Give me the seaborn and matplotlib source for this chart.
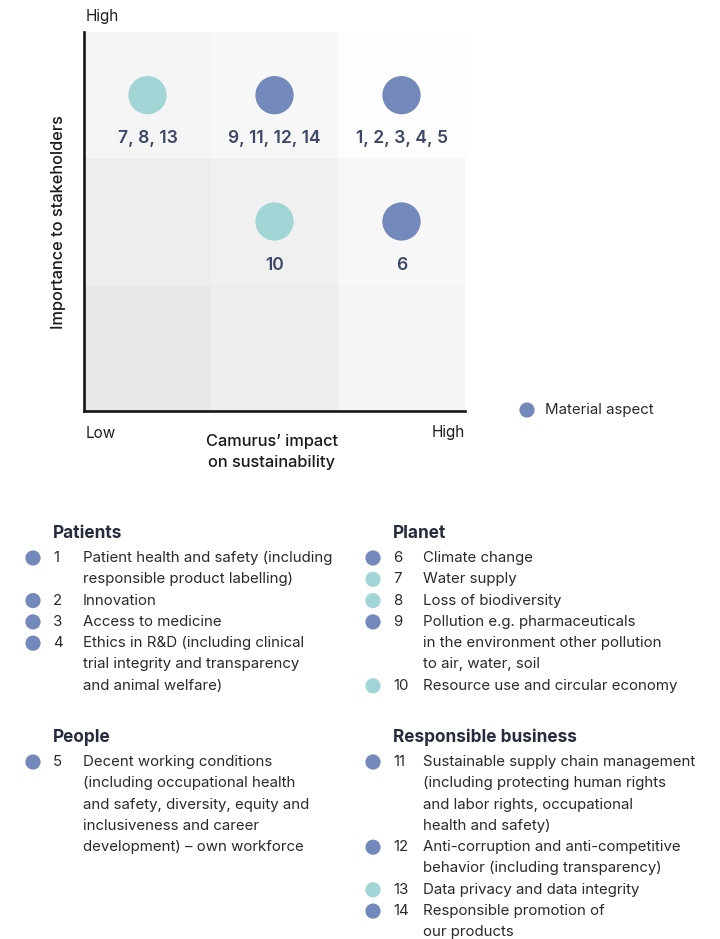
import numpy as np
import pandas as pd
import matplotlib
matplotlib.use("Agg")
import matplotlib.pyplot as plt
from matplotlib.colors import ListedColormap
import seaborn as sns

# --- data ---
aspect_ids = list(range(1, 15))
aspect_names = [
    "Patient health and safety (including\nresponsible product labelling)",
    "Innovation",
    "Access to medicine",
    "Ethics in R&D (including clinical\ntrial integrity and transparency\nand animal welfare)",
    "Decent working conditions\n(including occupational health\nand safety, diversity, equity and\ninclusiveness and career\ndevelopment) \u2013 own workforce",
    "Climate change",
    "Water supply",
    "Loss of biodiversity",
    "Pollution e.g. pharmaceuticals\nin the environment other pollution\nto air, water, soil",
    "Resource use and circular economy",
    "Sustainable supply chain management\n(including protecting human rights\nand labor rights, occupational\nhealth and safety)",
    "Anti-corruption and anti-competitive\nbehavior (including transparency)",
    "Data privacy and data integrity",
    "Responsible promotion of\nour products",
]
aspect_group = ["Patients"] * 4 + ["People"] + ["Planet"] * 5 + ["Responsible business"] * 4
aspect_material = [True, True, True, True, True, True, False, False, True, False, True, True, False, True]
# 0 = low, 1 = medium, 2 = high
impact_level = [2, 2, 2, 2, 2, 2, 0, 0, 1, 1, 1, 1, 0, 1]
importance_level = [2, 2, 2, 2, 2, 1, 2, 2, 2, 1, 2, 2, 2, 2]

df = pd.DataFrame({"id": aspect_ids, "name": aspect_names, "group": aspect_group,
                   "material": aspect_material, "impact": impact_level,
                   "importance": importance_level})

BLUE = "#7489bb"
TEAL = "#a2d6d6"
INK = "#3d4868"
HEAD = "#262b3d"

sns.set_theme(style="white")
plt.rcParams["font.family"] = ["Inter", "DejaVu Sans"]

fig = plt.figure(figsize=(7.2, 9.39), dpi=100)
W, H = 720, 939

# --- matrix ---
ax = fig.add_axes([84 / W, 1 - 411 / H, 381 / W, 379 / H])
# background gets lighter towards high importance / high impact
rows = np.arange(3)[::-1][:, None]  # importance, high on top
cols = np.arange(3)[None, :]
raw = rows ** 2 + cols ** 2
levels, shade = np.unique(raw, return_inverse=True)
shade = shade.reshape(raw.shape)
shade_cols = ["#e8e7e6", "#eeeded", "#f1f0f0", "#f5f5f5", "#f7f7f7", "#fdfdfd"]
sns.heatmap(shade, cmap=ListedColormap(shade_cols[:len(levels)]),
            vmin=-0.5, vmax=len(levels) - 0.5,
            cbar=False, ax=ax, linewidths=0, xticklabels=False, yticklabels=False)

cells = (df.groupby(["impact", "importance"])
           .agg(ids=("id", lambda s: ", ".join(str(v) for v in s)),
                material=("material", "first"))
           .reset_index())
cells["x"] = cells["impact"] + 0.5
cells["y"] = 2 - cells["importance"] + 0.5
cells["kind"] = np.where(cells["material"], "Material", "Other")
sns.scatterplot(data=cells, x="x", y="y", hue="kind",
                palette={"Material": BLUE, "Other": TEAL},
                s=760, edgecolor="none", legend=False, ax=ax)
for _, r in cells.iterrows():
    ax.text(r["x"], r["y"] + 0.345, r["ids"], ha="center", va="center",
            fontsize=12.6, color=INK, fontweight="semibold")
ax.set_xlim(0, 3)
ax.set_ylim(3, 0)
ax.set_xlabel("")
ax.set_ylabel("")
for side in ["left", "bottom"]:
    ax.spines[side].set_visible(True)
    ax.spines[side].set_color("#161616")
    ax.spines[side].set_linewidth(1.9)
for side in ["top", "right"]:
    ax.spines[side].set_visible(False)

# --- overlay for free text (pixel coords) ---
ov = fig.add_axes([0, 0, 1, 1])
ov.set_xlim(0, W)
ov.set_ylim(H, 0)
ov.axis("off")
ov.patch.set_alpha(0)

lab = dict(fontsize=11, color="#1e1e1e")
ov.text(86, 16, "High", ha="left", va="center", **lab)
ov.text(86, 433, "Low", ha="left", va="center", **lab)
ov.text(465, 433, "High", ha="right", va="center", **lab)
ov.text(272, 452, "Camurus\u2019 impact\non sustainability", ha="center", va="center",
        fontsize=11.8, color="#1a1a1a", fontweight="medium", linespacing=1.5)
ov.text(59, 222, "Importance to stakeholders", ha="center", va="center",
        rotation=90, fontsize=11.8, color="#1a1a1a", fontweight="medium")
ov.scatter([527], [410], s=120, color=BLUE, edgecolor="none")
ov.text(545, 410, "Material aspect", ha="left", va="center", fontsize=10.8, color="#2a2a2a")

# --- aspect lists ---
LINE = 21.3
blocks = {"Patients": (33, 533), "People": (33, 737),
          "Planet": (373, 533), "Responsible business": (373, 737)}
bullets = []
for grp, (bx, by) in blocks.items():
    ov.text(bx + 20, by, grp, ha="left", va="center", fontsize=12.4,
            fontweight="bold", color=HEAD)
    y = by + 25
    for _, r in df[df["group"] == grp].iterrows():
        bullets.append({"x": bx, "y": y, "material": r["material"]})
        ov.text(bx + 20, y, str(r["id"]), ha="left", va="center", fontsize=10.8, color="#2a2a2a")
        for line in r["name"].split("\n"):
            ov.text(bx + 50, y, line, ha="left", va="center", fontsize=10.8, color="#2a2a2a")
            y += LINE
bul = pd.DataFrame(bullets)
bul["kind"] = np.where(bul["material"], "Material", "Other")
sns.scatterplot(data=bul, x="x", y="y", hue="kind",
                palette={"Material": BLUE, "Other": TEAL},
                s=120, edgecolor="none", legend=False, ax=ov)
ov.set_xlim(0, W)
ov.set_ylim(H, 0)
ov.axis("off")

fig.savefig("out.png", dpi=100)
